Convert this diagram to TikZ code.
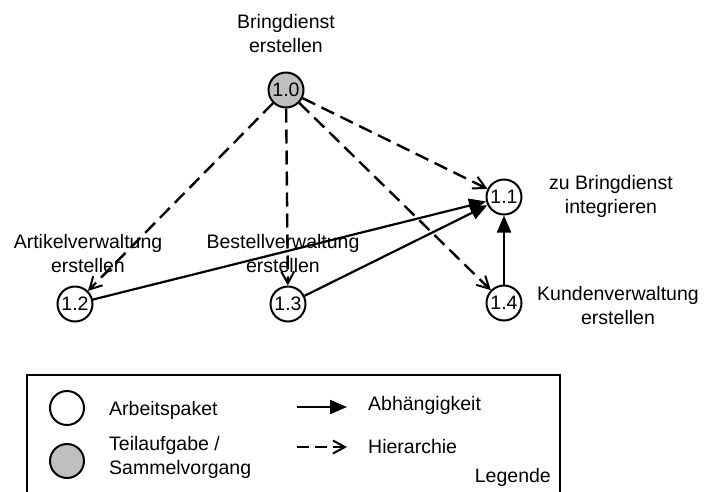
\documentclass[tikz,border=0pt]{standalone}
\usepackage{fontspec}
\setmainfont{Liberation Sans}
\usetikzlibrary{arrows.meta}
\begin{document}
\begin{tikzpicture}[x=1pt,y=-1pt,
  every node/.style={font=\fontsize{19.5}{24}\selectfont},
  pkg/.style={circle,draw,line width=2pt,minimum size=35pt,inner sep=0pt,fill=white},
  sum/.style={pkg,fill=black!25},
  lbl/.style={align=center,inner sep=0pt},
  dep/.style={line width=2.2pt,-{Triangle[length=17pt,width=14pt]}},
  hier/.style={line width=2.4pt,dash pattern=on 14pt off 7pt,
    -{Straight Barb[length=12pt,width=13pt,line width=2pt]}}]
\useasboundingbox (0,0) rectangle (706,491);

% work packages
\node[sum] (n10) at (286,90) {1.0};
\node[pkg] (n11) at (504,197) {1.1};
\node[pkg] (n12) at (75,304) {1.2};
\node[pkg] (n13) at (288,304) {1.3};
\node[pkg] (n14) at (504,303) {1.4};

% package titles
\node[lbl] (t10) at (286,34) {Bringdienst\\erstellen};
\node[lbl] (t11) at (611,196) {zu Bringdienst\\integrieren};
\node[lbl] (t12) at (88,254) {Artikelverwaltung\\erstellen};
\node[lbl] (t13) at (283,254) {Bestellverwaltung\\erstellen};
\node[lbl] (t14) at (618,306) {Kundenverwaltung\\erstellen};

% hierarchy
\draw[hier] (n10) -- (n11);
\draw[hier] (n10) -- (n12);
\draw[hier] (n10) -- (n13);
\draw[hier] (n10) -- (n14);

% dependencies
\draw[dep] (n12) -- (n11);
\draw[dep] (n13) -- (n11);
\draw[dep] (n14) -- (n11);

% legend frame (open at the bottom)
\coordinate (lbl) at (27,495);
\coordinate (ltl) at (27,375);
\coordinate (ltr) at (560,375);
\coordinate (lbr) at (560,495);
\draw[line width=1.6pt] (lbl) -- (ltl) -- (ltr) -- (lbr);

\node[pkg,minimum size=34pt] (lw) at (67,408) {};
\node[sum,minimum size=34pt] (lg) at (67,461) {};
\node[anchor=west,inner sep=0pt] (lwt) at (109,410) {Arbeitspaket};
\node[anchor=west,inner sep=0pt,align=left] (lgt) at (109,457) {Teilaufgabe /\\Sammelvorgang};

\coordinate (da) at (297,407);
\coordinate (db) at (347,407);
\coordinate (ha) at (297,447);
\coordinate (hb) at (347,447);
\draw[dep] (da) -- (db);
\draw[hier,dash pattern=on 12pt off 6pt] (ha) -- (hb);
\node[anchor=west,inner sep=0pt] (dt) at (368,405) {Abhängigkeit};
\node[anchor=west,inner sep=0pt] (ht) at (368,447) {Hierarchie};
\node[anchor=east,inner sep=0pt] (leg) at (551,477) {Legende};
\end{tikzpicture}
\end{document}
